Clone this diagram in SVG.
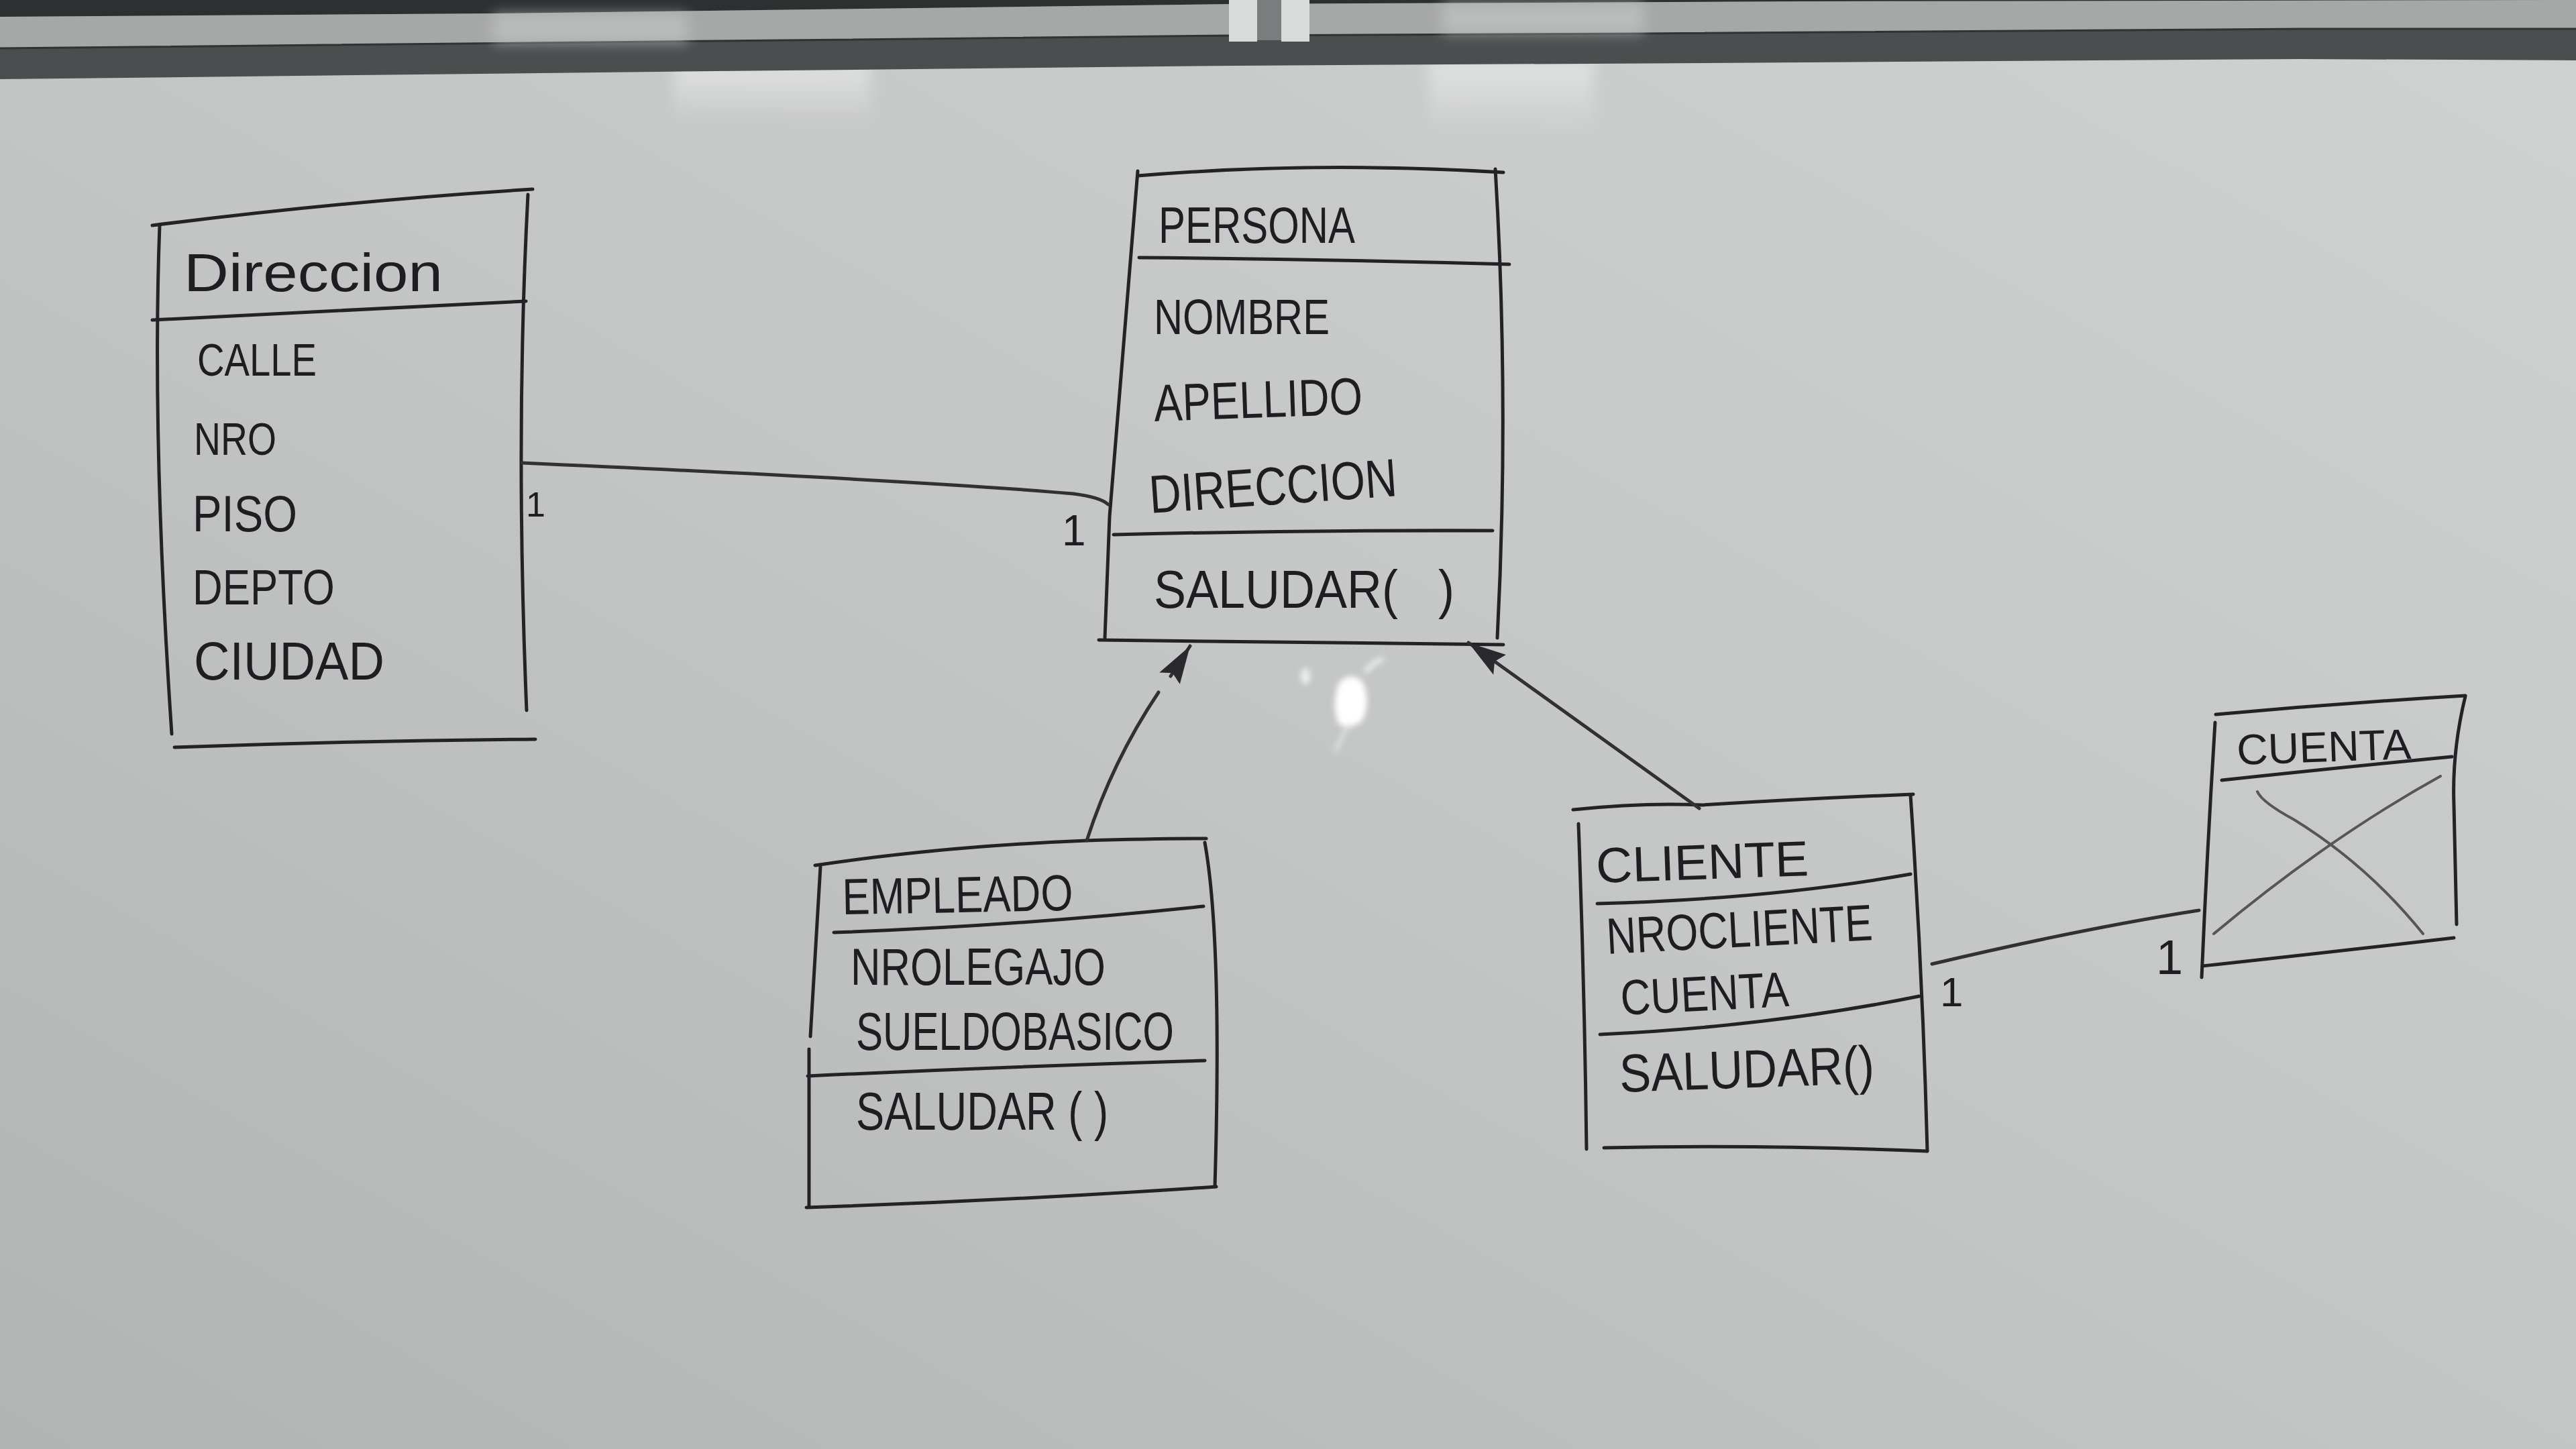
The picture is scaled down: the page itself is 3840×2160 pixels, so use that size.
<svg xmlns="http://www.w3.org/2000/svg" width="3840" height="2160" viewBox="0 0 3840 2160">
<defs>
<linearGradient id="board" x1="1" y1="0" x2="0" y2="1">
<stop offset="0" stop-color="#d0d2d1"/>
<stop offset="0.5" stop-color="#c4c6c5"/>
<stop offset="1" stop-color="#b2b4b3"/>
</linearGradient>
<linearGradient id="streak" x1="0" y1="0" x2="0" y2="1">
<stop offset="0" stop-color="#e6e8e7" stop-opacity="0.8"/>
<stop offset="1" stop-color="#e6e8e7" stop-opacity="0"/>
</linearGradient>
<filter id="blur" x="-50%" y="-50%" width="200%" height="200%"><feGaussianBlur stdDeviation="10"/></filter>
<filter id="blur2" x="-50%" y="-50%" width="200%" height="200%"><feGaussianBlur stdDeviation="4"/></filter>
<marker id="gen" markerUnits="userSpaceOnUse" viewBox="0 0 64 40" markerWidth="64" markerHeight="40" refX="60" refY="20" orient="auto">
<path d="M60,20 L2,3 L12,20 L4,38 Z" fill="#2a2a2e"/>
</marker>
<style>
.ln{fill:none;stroke:#232327;stroke-width:5;stroke-linecap:round;stroke-linejoin:round}
.cx{fill:none;stroke:#5a5458;stroke-width:4;stroke-linecap:round}
.t{font-family:"Liberation Sans","DejaVu Sans",sans-serif;fill:#1d1d22}
.m{font-family:"Liberation Sans","DejaVu Sans",sans-serif;fill:#1d1d22}
.cn{fill:none;stroke:#313135;stroke-width:5;stroke-linecap:round}
</style>
</defs>

<!-- whiteboard background -->
<rect x="0" y="0" width="3840" height="2160" fill="url(#board)"/>
<rect x="1004" y="95" width="294" height="90" fill="url(#streak)" filter="url(#blur)"/>
<rect x="2130" y="90" width="245" height="110" fill="url(#streak)" filter="url(#blur)"/>

<!-- top frame -->
<path d="M0,0 L3840,0 L3840,90 L3429,88 L2694,93 L1837,98 L980,107 L0,118 Z" fill="#4b4d4f"/>
<path d="M0,0 L3840,0 L2694,2 L1837,6 L735,20 L0,25 Z" fill="#2d2f31"/>
<path d="M0,25 L735,20 L1837,6 L2694,2 L3840,0 L3840,43 L3429,43 L2449,50 L1837,53 L980,62 L0,72 Z" fill="#a6a8a7"/>
<path d="M0,72 L980,62 L1837,53 L2449,50 L3429,43 L3840,43" fill="none" stroke="#303234" stroke-width="3"/>
<rect x="735" y="20" width="290" height="44" fill="#c6c8c7" opacity="0.6" filter="url(#blur)"/>
<rect x="2150" y="4" width="300" height="46" fill="#c8cac9" opacity="0.6" filter="url(#blur)"/>
<rect x="1832" y="0" width="42" height="62" fill="#d9dbda"/>
<rect x="1874" y="0" width="36" height="60" fill="#7a7c7d"/>
<rect x="1910" y="0" width="42" height="62" fill="#d9dbda"/>

<!-- glare -->
<g filter="url(#blur2)">
<path d="M1995,1020 Q2010,1000 2030,1015 Q2045,1045 2030,1075 Q2010,1090 1995,1078 Q1985,1050 1995,1020 Z" fill="#ffffff"/>
<ellipse cx="1946" cy="1008" rx="7" ry="12" fill="#eef0f0"/>
<path d="M2035,1002 Q2048,986 2062,982" stroke="#eef0f0" stroke-width="7" fill="none"/>
<path d="M2010,1080 L1990,1120" stroke="#e4e6e6" stroke-width="5" fill="none"/>
</g>

<!-- Direccion -->
<g id="direccion">
<path class="ln" d="M227,336 Q510,300 794,282"/>
<path class="ln" d="M238,336 Q226,650 256,1094"/>
<path class="ln" d="M787,290 Q768,650 785,1059"/>
<path class="ln" d="M227,477 Q510,462 784,449"/>
<path class="ln" d="M260,1114 Q530,1104 798,1102"/>
<text class="t" x="274" y="434" font-size="80" textLength="386" lengthAdjust="spacingAndGlyphs">Direccion</text>
<text class="t" x="294" y="560" font-size="68" textLength="178" lengthAdjust="spacingAndGlyphs">CALLE</text>
<text class="t" x="289" y="678" font-size="68" textLength="123" lengthAdjust="spacingAndGlyphs">NRO</text>
<text class="t" x="287" y="792" font-size="76" textLength="156" lengthAdjust="spacingAndGlyphs">PISO</text>
<text class="t" x="287" y="901" font-size="74" textLength="212" lengthAdjust="spacingAndGlyphs">DEPTO</text>
<text class="t" x="289" y="1013" font-size="80" textLength="284" lengthAdjust="spacingAndGlyphs">CIUDAD</text>
</g>

<!-- Persona -->
<g id="persona">
<path class="ln" d="M1696,262 Q1960,240 2241,257"/>
<path class="ln" d="M1696,255 L1654,770 L1647,951"/>
<path class="ln" d="M2229,252 Q2250,600 2232,951"/>
<path class="ln" d="M1698,384 Q1970,386 2250,394"/>
<path class="ln" d="M1660,797 Q1940,790 2225,791"/>
<path class="ln" d="M1638,954 Q1940,958 2241,961"/>
<text class="t" x="1727" y="362" font-size="76" textLength="293" lengthAdjust="spacingAndGlyphs">PERSONA</text>
<text class="t" x="1720" y="498" font-size="74" textLength="262" lengthAdjust="spacingAndGlyphs">NOMBRE</text>
<text class="t" x="1721" y="628" font-size="78" textLength="311" lengthAdjust="spacingAndGlyphs" transform="rotate(-2 1721 628)">APELLIDO</text>
<text class="t" x="1715" y="765" font-size="80" textLength="370" lengthAdjust="spacingAndGlyphs" transform="rotate(-4 1715 765)">DIRECCION</text>
<text class="t" x="1720" y="906" font-size="80" textLength="448" lengthAdjust="spacingAndGlyphs" xml:space="preserve">SALUDAR(   )</text>
</g>

<!-- Empleado -->
<g id="empleado">
<path class="ln" d="M1215,1290 Q1400,1262 1620,1253 Q1720,1250 1798,1250"/>
<path class="ln" d="M1223,1292 L1208,1545 M1206,1564 L1206,1797"/>
<path class="ln" d="M1796,1256 Q1822,1400 1811,1769"/>
<path class="ln" d="M1243,1390 Q1520,1380 1794,1351"/>
<path class="ln" d="M1204,1604 Q1500,1590 1796,1581"/>
<path class="ln" d="M1202,1800 Q1500,1790 1813,1769"/>
<text class="t" x="1256" y="1363" font-size="76" textLength="344" lengthAdjust="spacingAndGlyphs" transform="rotate(-1 1256 1363)">EMPLEADO</text>
<text class="t" x="1268" y="1468" font-size="78" textLength="380" lengthAdjust="spacingAndGlyphs">NROLEGAJO</text>
<text class="t" x="1276" y="1565" font-size="80" textLength="474" lengthAdjust="spacingAndGlyphs">SUELDOBASICO</text>
<text class="t" x="1276" y="1684" font-size="80" textLength="376" lengthAdjust="spacingAndGlyphs">SALUDAR ( )</text>
</g>

<!-- Cliente -->
<g id="cliente">
<path class="ln" d="M2345,1207 Q2450,1196 2537,1200 Q2700,1190 2852,1184"/>
<path class="ln" d="M2353,1228 Q2362,1470 2365,1713"/>
<path class="ln" d="M2848,1186 Q2866,1450 2873,1716"/>
<path class="ln" d="M2381,1347 Q2640,1340 2848,1303"/>
<path class="ln" d="M2385,1542 Q2640,1530 2861,1485"/>
<path class="ln" d="M2391,1711 Q2630,1706 2873,1716"/>
<text class="t" x="2380" y="1316" font-size="74" textLength="317" lengthAdjust="spacingAndGlyphs" transform="rotate(-2 2380 1316)">CLIENTE</text>
<text class="t" x="2396" y="1422" font-size="76" textLength="397" lengthAdjust="spacingAndGlyphs" transform="rotate(-3 2396 1422)">NROCLIENTE</text>
<text class="t" x="2417" y="1513" font-size="74" textLength="251" lengthAdjust="spacingAndGlyphs" transform="rotate(-3 2417 1513)">CUENTA</text>
<text class="t" x="2415" y="1628" font-size="80" textLength="380" lengthAdjust="spacingAndGlyphs" transform="rotate(-2 2415 1628)">SALUDAR()</text>
</g>

<!-- Cuenta -->
<g id="cuenta">
<path class="ln" d="M3303,1065 Q3490,1048 3675,1037"/>
<path class="ln" d="M3302,1077 Q3290,1270 3282,1457"/>
<path class="ln" d="M3675,1038 Q3655,1120 3658,1200 Q3660,1300 3662,1378"/>
<path class="ln" d="M3312,1163 Q3480,1145 3655,1128"/>
<path class="ln" d="M3283,1440 Q3470,1420 3658,1398"/>
<path class="cx" d="M3365,1180 Q3372,1196 3420,1222 Q3530,1290 3612,1392"/>
<path class="cx" d="M3638,1157 Q3470,1250 3300,1392"/>
<text class="t" x="3335" y="1140" font-size="64" textLength="260" lengthAdjust="spacingAndGlyphs" transform="rotate(-2 3335 1140)">CUENTA</text>
</g>

<!-- connectors -->
<g id="connectors">
<path class="cn" d="M778,690 Q1400,718 1600,736 Q1640,741 1652,752" stroke-width="7" stroke="#38383c"/>
<path class="cn" d="M1620,1253 Q1658,1135 1727,1032 M1745,1008 L1774,963" marker-end="url(#gen)"/>
<path class="cn" d="M2533,1205 L2189,958" marker-end="url(#gen)"/>
<path class="cn" d="M2880,1437 Q3100,1385 3278,1357" stroke-width="4" stroke="#3c383c"/>
<text class="m" x="784" y="770" font-size="52">1</text>
<text class="m" x="1583" y="813" font-size="64">1</text>
<text class="m" x="2892" y="1500" font-size="62">1</text>
<text class="m" x="3214" y="1452" font-size="72">1</text>
</g>
</svg>
